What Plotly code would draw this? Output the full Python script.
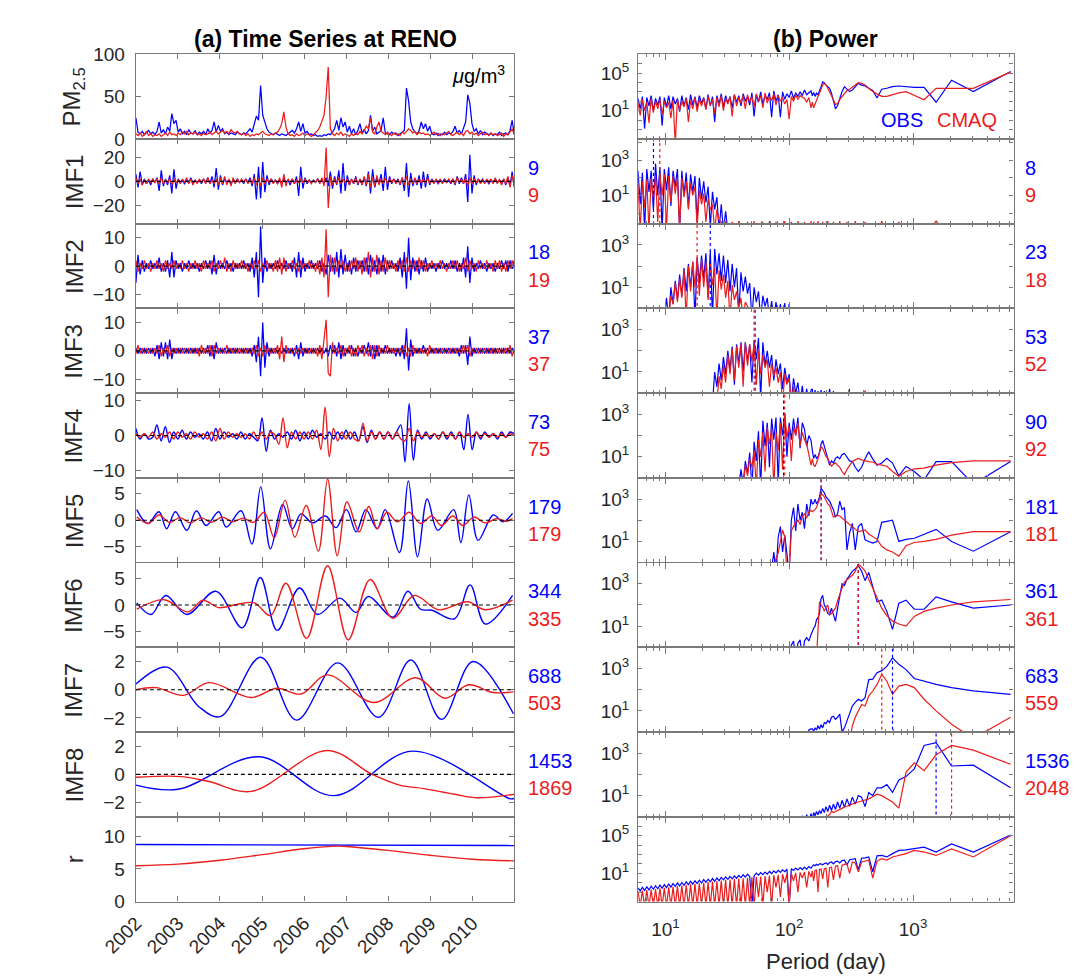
import numpy as np
import plotly.graph_objects as go

# =========================== DATA ===========================
YEARS = [2002, 2003, 2004, 2005, 2006, 2007, 2008, 2009, 2010]
ROW_LABELS = ["PM<sub>2.5</sub>", "IMF1", "IMF2", "IMF3", "IMF4", "IMF5", "IMF6", "IMF7", "IMF8", "r"]

# dominant periods (days) printed beside the panels
TS_PER_OBS = [9, 18, 37, 73, 179, 344, 688, 1453]
TS_PER_CMAQ = [9, 19, 37, 75, 179, 335, 503, 1869]
SP_PER_OBS = [8, 23, 53, 90, 181, 361, 683, 1536]
SP_PER_CMAQ = [9, 18, 52, 92, 181, 361, 559, 2048]

# ---- time series sampled on a regular grid (180 samples, 2002-2011) ----
pm_obs = [25, 8, 6, 9, 5, 7, 10, 6, 8, 5,
          9, 20, 7, 11, 6, 14, 9, 30, 18, 22,
          8, 12, 6, 9, 5, 11, 7, 6, 10, 5,
          8, 6, 9, 5, 12, 7, 10, 20, 8, 16,
          9, 12, 6, 8, 5, 7, 6, 5, 8, 6,
          5, 7, 6, 9, 12, 8, 18, 27, 22, 63,
          28, 20, 12, 8, 6, 5, 7, 5, 4, 6,
          5, 4, 6, 8, 10, 7, 12, 20, 9, 18,
          7, 9, 5, 6, 4, 5, 3, 4, 3, 5,
          4, 6, 5, 8, 12, 22, 10, 25, 14, 20,
          8, 15, 6, 12, 5, 10, 18, 7, 11, 6,
          10, 28, 9, 14, 6, 8, 10, 25, 7, 6,
          5, 8, 6, 7, 4, 6, 8, 10, 60, 45,
          20, 12, 8, 6, 10, 20, 12, 18, 9, 15,
          6, 5, 7, 4, 6, 5, 8, 5, 7, 6,
          9, 15, 7, 10, 6, 12, 20, 52, 42, 18,
          9, 12, 6, 10, 5, 8, 6, 5, 7, 4,
          6, 5, 8, 4, 6, 7, 5, 10, 22, 6]
pm_cmaq = [6, 4, 7, 3, 5, 9, 4, 6, 3, 5,
           4, 6, 3, 5, 7, 4, 8, 5, 6, 4,
           7, 5, 8, 6, 9, 5, 7, 6, 8, 5,
           6, 4, 7, 5, 6, 8, 5, 7, 9, 6,
           8, 10, 7, 9, 6, 11, 8, 7, 9, 6,
           5, 7, 4, 6, 3, 5, 4, 6, 5, 7,
           9, 6, 5, 4, 6, 5, 7, 8, 12, 18,
           32, 14, 6, 4, 5, 3, 6, 4, 5, 7,
           4, 6, 5, 3, 5, 7, 10, 14, 20, 28,
           50, 85, 12, 6, 4, 7, 5, 8, 4, 6,
           5, 3, 6, 4, 7, 5, 9, 6, 10, 15,
           12, 25, 8, 6, 14, 20, 9, 7, 5, 8,
           6, 4, 7, 5, 6, 4, 8, 6, 9, 12,
           10, 7, 9, 5, 8, 6, 7, 5, 6, 4,
           6, 8, 5, 7, 4, 6, 5, 7, 9, 5,
           4, 6, 8, 5, 7, 4, 9, 10, 6, 8,
           5, 7, 4, 6, 8, 5, 6, 4, 7, 5,
           6, 4, 5, 7, 3, 6, 5, 8, 12, 5]
imf1_obs = [6, -5, 8, -3, 2, -2, 1, -3, 2, -1,
            3, -8, 9, -4, 2, -3, 5, -10, 10, -6,
            2, -1, 1, -2, 1, -1, 3, -2, 1, -1,
            1, -2, 2, -1, 3, -2, 4, -5, 11, -7,
            5, -3, 2, -1, 1, -2, 1, -1, 2, -1,
            1, -2, 2, -1, 3, -4, 6, -15, 12, -14,
            16, -9, 5, -3, 2, -1, 1, -2, 1, -1,
            2, -1, 1, -3, 2, -2, 4, -12, 12, -6,
            3, -2, 1, -1, 1, -1, 2, -1, 1, -2,
            3, -4, 8, -6, 4, -3, 9, -10, 15, -8,
            5, -3, 2, -2, 4, -3, 2, -3, 3, -4,
            8, -10, 10, -5, 3, -2, 6, -8, 12, -7,
            4, -2, 2, -1, 2, -3, 3, -8, 15, -13,
            7, -4, 2, -3, 5, -6, 8, -5, 6, -3,
            2, -1, 1, -2, 1, -1, 2, -1, 1, -2,
            2, -3, 4, -2, 3, -2, 6, -17, 22, -10,
            5, -3, 2, -1, 2, -1, 1, -2, 1, -1,
            2, -1, 1, -2, 2, -3, 3, -4, 8, -5]
imf1_cmaq = [3, -2, 2, -3, 1, -2, 2, -1, 2, -1,
             2, -2, 3, -2, 1, -1, 2, -3, 2, -1,
             1, -2, 2, -1, 3, -2, 2, -3, 1, -2,
             2, -1, 2, -2, 3, -2, 1, -2, 2, -3,
             3, -2, 4, -3, 2, -4, 3, -2, 2, -1,
             2, -1, 2, -2, 1, -2, 3, -3, 2, -4,
             3, -2, 2, -1, 2, -2, 1, -2, 3, -5,
             6, -4, 2, -1, 2, -2, 1, -1, 2, -1,
             2, -1, 1, -2, 1, -1, 2, -2, 3, -4,
             28, -22, 4, -3, 2, -2, 3, -2, 2, -1,
             2, -3, 2, -2, 3, -2, 2, -3, 4, -3,
             6, -5, 3, -4, 5, -3, 2, -2, 3, -2,
             2, -1, 2, -2, 1, -2, 3, -3, 4, -3,
             2, -2, 3, -2, 2, -1, 2, -2, 3, -2,
             1, -2, 2, -1, 2, -2, 1, -1, 2, -1,
             2, -2, 3, -1, 2, -2, 3, -4, 3, -2,
             2, -1, 2, -2, 1, -2, 2, -1, 2, -2,
             3, -2, 2, -3, 2, -2, 4, -5, 5, -3]
imf2_obs = [-6, 4, -3, 2, -2, 1, -1, 2, -1, 1,
            -1, 3, -2, 1, -2, 2, -4, 5, -4, 2,
            -1, 1, -2, 1, -1, 2, -1, 1, -1, 1,
            -2, 1, -1, 2, -1, 2, -3, 4, -3, 2,
            -1, 1, -1, 2, -1, 1, -2, 1, -1, 1,
            -1, 2, -1, 1, -2, 3, -4, 5, -11, 14,
            -6, 3, -2, 1, -1, 1, -1, 2, -1, 1,
            -1, 2, -1, 1, -2, 3, -4, 5, -4, 3,
            -2, 1, -1, 2, -1, 1, -1, 2, -2, 1,
            -3, 4, -2, 3, -3, 5, -4, 6, -3, 4,
            -2, 2, -3, 3, -2, 2, -1, 2, -2, 3,
            -3, 4, -2, 2, -3, 3, -2, 4, -3, 2,
            -1, 2, -1, 1, -2, 3, -4, 5, -8, 10,
            -5, 3, -2, 2, -3, 2, -2, 3, -2, 1,
            -1, 1, -2, 1, -1, 2, -1, 1, -1, 2,
            -1, 2, -2, 1, -2, 3, -4, 7, -6, 3,
            -2, 1, -1, 2, -1, 1, -2, 1, -1, 1,
            -2, 1, -1, 2, -1, 2, -2, 2, -1, 2]
imf2_cmaq = [2, -2, 1, -1, 2, -1, 1, -2, 1, -1,
             2, -1, 1, -2, 2, -1, 1, -1, 2, -1,
             1, -1, 2, -1, 1, -2, 1, -1, 2, -1,
             1, -2, 2, -1, 1, -1, 2, -2, 1, -1,
             2, -1, 3, -2, 1, -2, 2, -1, 1, -1,
             2, -1, 1, -2, 1, -1, 2, -1, 2, -2,
             1, -1, 2, -1, 1, -2, 2, -2, 3, -3,
             3, -2, 1, -1, 2, -1, 1, -2, 2, -1,
             1, -1, 2, -1, 1, -2, 2, -3, 3, -4,
             13, -11, 4, -2, 3, -2, 2, -1, 2, -2,
             1, -2, 2, -1, 3, -2, 2, -3, 3, -2,
             5, -4, 3, -2, 4, -3, 2, -2, 3, -2,
             2, -1, 1, -2, 2, -1, 2, -2, 3, -2,
             2, -1, 2, -2, 3, -1, 2, -2, 1, -1,
             2, -1, 1, -1, 2, -1, 1, -2, 1, -1,
             2, -1, 2, -2, 1, -1, 3, -2, 2, -1,
             1, -2, 2, -1, 1, -1, 2, -1, 1, -2,
             2, -1, 2, -2, 1, -2, 2, -1, 2, -1]
imf3_obs = [1, -1, 1, -1, 1, -1, 1, -1, 1, -2,
            2, -3, 3, -2, 3, -3, 4, -3, 1, -1,
            1, -1, 1, -1, 1, -1, 1, -1, 1, -1,
            1, -1, 1, -1, 2, -2, 2, -3, 3, -1,
            1, -1, 1, -1, 1, -1, 1, -1, 1, -1,
            1, -1, 1, -1, 1, -2, 2, -4, 5, -9,
            10, -6, 3, -2, 1, -1, 1, -1, 1, -1,
            1, -1, 1, -1, 1, -2, 2, -3, 3, -2,
            1, -1, 1, -1, 1, -1, 1, -1, 1, -1,
            1, -2, 2, -1, 2, -2, 3, -3, 2, -2,
            1, -1, 2, -2, 1, -2, 1, -1, 2, -1,
            3, -2, 2, -3, 2, -2, 1, -1, 2, -1,
            1, -1, 1, -2, 1, -2, 2, -3, 8, -7,
            4, -2, 1, -1, 1, -1, 2, -1, 1, -1,
            1, -1, 1, -1, 1, -1, 1, -1, 1, -1,
            1, -1, 1, -2, 2, -1, 2, -5, 5, -2,
            1, -1, 1, -1, 1, -1, 1, -1, 1, -1,
            1, -1, 1, -1, 1, -1, 1, -1, 1, -1]
imf3_cmaq = [-1, 2, -1, 1, -1, 1, -1, 1, -1, 1,
             -1, 2, -2, 1, -1, 2, -2, 1, -1, 1,
             -1, 1, -1, 1, -1, 1, -1, 1, -1, 1,
             -2, 2, -1, 1, -1, 2, -2, 2, -1, 1,
             -1, 1, -1, 2, -1, 1, -1, 1, -1, 1,
             -1, 1, -1, 1, -1, 1, -1, 2, -2, 1,
             -2, 2, -1, 1, -1, 1, -1, 2, -3, 5,
             -4, 2, -1, 1, -1, 1, -1, 1, -1, 1,
             -1, 1, -1, 1, -1, 1, -2, 2, -3, 3,
             11, -8, -9, 3, -1, 1, -1, 2, -2, 1,
             -1, 2, -2, 1, -2, 2, -1, 2, -2, 1,
             -2, 2, -3, 2, -2, 2, -1, 1, -1, 2,
             -1, 1, -1, 1, -1, 1, -1, 2, -2, 1,
             -2, 2, -1, 1, -1, 1, -1, 1, -2, 2,
             -1, 1, -1, 1, -1, 1, -1, 1, -1, 1,
             -1, 1, -1, 1, -1, 2, -1, 2, -2, 1,
             -1, 1, -1, 1, -1, 1, -1, 1, -1, 1,
             -1, 1, -1, 1, -1, 1, -1, 2, -2, 1]

# ---- IMF4 sampled every ~0.1 yr (91 samples) ----
imf4_obs = [2, -1, 0.5, -1, -0.5, 3, -1.5, 2.5, -2, 1,
            -1, 1.5, -1, 1, -0.5, 0.5, -1, 1, -1.5, 2,
            -1, 1, -0.5, 0.5, -1, 1, -1, 0.5, -0.5, -1.5,
            5, -4.5, 1.5, -1, 0.5, -0.5, 1, -1, 1.5, -1.5,
            1, -1, 1.5, -0.5, 0.5, -1, 1, -1, 1, -1,
            1.5, -1, 1, -1.5, 2.5, -2, 1.5, -1, 1, -1,
            1, -1, 1, 3, -7.5, 9, -7, 1.5, -1, 1,
            -1, 0.5, -1, 1, -1, 1, -1, 1, -4, 6,
            -4, 1, -1, 1, -0.5, 0.5, -1, 1, -0.5, 1, 0.5]
imf4_cmaq = [0.5, -0.5, 0.5, -0.5, 1, -1, 0.5, -0.5, 1, -1,
             1, -0.5, 0.5, -1, 1, -0.5, 0.5, -1, 1, -1.5,
             2, -1, 1, -0.5, 0.5, -0.5, 0.5, -1, 1, -1,
             1, -1, 1, 0.3, -2.5, 5, -3.5, 1, -1, 1,
             -1, 1, -1, 1.5, -4, 8, -6, 2, -1.5, 1,
             -1, 1, -1, -1.5, 3.5, -1.5, 1, -1, 1, -1,
             1, -1, 1, -1, -1.5, 2, -1.5, 1, -0.5, 0.5,
             -0.5, 0.5, -1, 1, -0.5, 0.5, -1, 1, -0.5, 0.5,
             -0.5, 1, -0.5, 0.5, -0.5, 0.5, -0.5, 0.5, -0.5, 0.5, 0]

# ---- smoother modes: extrema (decimal year, value) ----
imf5_obs_t = [2002.02, 2002.28, 2002.55, 2002.73, 2002.94, 2003.21, 2003.44, 2003.67, 2003.97, 2004.15,
              2004.50, 2004.76, 2004.97, 2005.20, 2005.49, 2005.72, 2005.93, 2006.20, 2006.51, 2006.76,
              2007.01, 2007.24, 2007.47, 2007.74, 2007.93, 2008.27, 2008.48, 2008.70, 2008.93, 2009.18,
              2009.56, 2009.73, 2009.92, 2010.14, 2010.50, 2010.73, 2010.96]
imf5_obs_v = [2.0, -0.6, 1.6, -1.6, 1.6, -1.9, 1.8, -1.0, 1.6, -1.3,
              1.8, -4.5, 6.3, -5.4, 3.0, -1.6, 1.2, -0.5, 0.8, -1.4,
              2.0, -2.2, 2.0, -1.6, 2.0, -6.1, 7.4, -6.9, 4.0, -1.9,
              2.0, -4.2, 4.8, -3.8, 1.0, -0.3, 1.3]
imf5_cmaq_t = [2002.02, 2002.30, 2002.55, 2002.80, 2003.05, 2003.30, 2003.55, 2003.80, 2004.05, 2004.30,
               2004.55, 2004.80, 2005.05, 2005.29, 2005.55, 2005.78, 2006.05, 2006.34, 2006.56, 2006.79,
               2007.02, 2007.31, 2007.54, 2007.74, 2007.97, 2008.22, 2008.50, 2008.77, 2009.04, 2009.27,
               2009.54, 2009.77, 2010.04, 2010.31, 2010.58, 2010.81, 2010.96]
imf5_cmaq_v = [0.6, -0.6, 1.0, -0.4, 0.5, -0.5, 0.5, -0.4, 0.6, -0.3,
               0.4, -0.4, 1.5, -3.3, 3.8, -3.2, 2.8, -5.8, 7.8, -6.7,
               3.5, -2.2, 2.6, -1.6, 1.5, -0.3, 1.5, -0.6, 0.8, -1.0,
               0.8, -1.0, 0.6, -0.5, 0.3, -0.2, 0.3]
imf6_obs_t = [2002.02, 2002.36, 2002.71, 2003.21, 2003.90, 2004.53, 2004.96, 2005.36, 2005.89, 2006.32,
              2006.85, 2007.24, 2007.53, 2008.12, 2008.47, 2008.77, 2009.04, 2009.58, 2009.95, 2010.31, 2010.96]
imf6_obs_v = [0.4, -1.8, 1.8, -1.8, 2.6, -4.3, 5.2, -4.8, 3.2, -1.8,
              1.3, -1.4, 1.6, -2.3, 2.6, -0.8, -1.0, -2.6, 3.8, -3.6, 1.8]
imf6_cmaq_t = [2002.02, 2002.67, 2003.24, 2003.59, 2003.97, 2004.40, 2004.82, 2005.20, 2005.57, 2006.06,
               2006.56, 2007.05, 2007.57, 2008.11, 2008.62, 2009.20, 2009.89, 2010.31, 2010.96]
imf6_cmaq_v = [-0.8, 1.0, -1.3, 0.9, -0.5, 0.1, 0.4, -2.0, 4.1, -6.3,
               7.4, -6.6, 4.8, -2.5, 1.8, -0.9, 0.6, -0.9, 0.9]
imf7_obs_t = [2002.0, 2002.74, 2003.5, 2004.01, 2004.97, 2005.82, 2006.80, 2007.77, 2008.54, 2009.27, 2010.02, 2010.98]
imf7_obs_v = [0.4, 1.6, -1.2, -1.9, 2.3, -2.15, 1.9, -1.95, 2.1, -2.1, 2.0, -1.7]
imf7_cmaq_t = [2002.0, 2002.48, 2003.13, 2003.74, 2004.74, 2005.36, 2005.93, 2006.55, 2007.66, 2008.66,
               2009.35, 2009.92, 2010.50, 2010.98]
imf7_cmaq_v = [0.0, 0.15, -0.4, 0.5, -0.55, 0.1, -0.3, 1.05, -0.9, 0.85, -0.6, 0.35, -0.2, -0.15]
imf8_obs_t = [2002.0, 2003.0, 2004.93, 2006.70, 2008.58, 2010.9, 2011.0]
imf8_obs_v = [-0.75, -1.05, 1.25, -1.5, 1.65, -1.72, -1.7]
imf8_cmaq_t = [2002.0, 2003.1, 2003.74, 2004.74, 2006.55, 2007.62, 2008.27, 2008.85, 2009.58, 2010.12, 2011.0]
imf8_cmaq_v = [-0.2, -0.15, -0.5, -1.2, 1.7, 0.0, -0.75, -1.0, -1.4, -1.65, -1.4]
res_obs_t = [2002.0, 2011.0]
res_obs_v = [8.75, 8.6]
res_cmaq_t = [2002.0, 2003.0, 2004.0, 2005.0, 2006.0, 2006.8, 2007.0, 2008.0, 2009.0, 2010.0, 2011.0]
res_cmaq_v = [5.5, 5.75, 6.35, 7.2, 8.1, 8.5, 8.45, 7.85, 7.1, 6.5, 6.25]

# ---- power spectra (log10 power) ----
# "dense" part: periods 6..150 d on a log grid of 80 samples -> (first index, values)
# "harm"  part: harmonic periods 6144/k for k = 1..40        -> (first k, values)
N_FFT = 6144
sp_pm_obs_dense = (0, [2.3, 1.2, 2.5, -0.9, 2.4, 1.5, 2.6, 1.0, 2.3, 1.6,
                       2.5, -0.6, 2.4, 1.4, 2.6, 1.2, 2.5, 1.7, 2.3, 0.9,
                       2.6, 1.5, 2.4, 1.1, 2.7, 1.6, 2.5, 1.3, 2.6, 1.8,
                       2.4, 1.2, 2.7, 1.5, 2.5, -0.2, 2.6, 1.7, 2.8, 1.4,
                       2.6, 1.8, 2.5, 1.3, 2.7, 1.9, 2.6, 1.5, 2.8, 2.0,
                       2.5, 1.6, 2.9, 0.4, 2.7, 1.9, 3.0, 1.7, 2.6, 2.2,
                       2.9, 0.3, 3.1, 2.0, 2.7, 0.3, 3.0, 2.2, 2.8, 2.4,
                       3.1, 2.3, 2.9, 2.5, 3.0, 2.6, 3.2, 2.7, 2.9, 3.1])
sp_pm_obs_harm = (1, [5.17, 3.03, 4.24, 1.9, 3.48, 3.48, 3.55, 3.62, 3.55, 3.38,
                      3.28, 2.35, 3.14, 3.38, 3.62, 3.72, 3.9, 3.55, 3.2, 3.03,
                      3.28, 3.55, 3.03, 2.35, 1.55, 1.2, 2.0, 2.86, 3.38, 3.55,
                      3.72, 3.97, 4.07, 3.55, 3.03, 2.69, 2.86, 2.52, 2.93, 2.59])
sp_pm_cmaq_dense = (0, [1.8, 0.5, 2.2, 1.0, 1.9, -0.3, 2.3, 0.8, 2.0, 1.2,
                        2.2, 0.6, 2.0, 1.3, 1.9, 0.2, 2.1, -2.5, 2.2, 1.0,
                        2.0, 1.4, 2.3, -0.2, 2.1, 1.2, 2.4, 0.9, 2.2, 1.5,
                        2.3, 1.1, 2.5, 1.6, 2.2, 0.7, 2.4, 1.4, 2.6, 1.0,
                        2.3, 1.7, 2.5, 0.4, 2.7, 1.5, 2.4, 1.8, 2.6, 1.2,
                        2.7, 1.9, 2.5, 1.4, 2.8, 2.0, 2.6, 1.3, 2.9, 1.8,
                        2.5, 2.1, 2.8, 1.6, 2.6, 2.0, 2.4, 1.7, 2.2, 0.1,
                        2.5, 2.0, 2.7, 2.2, 2.6, 2.4, 2.3, 1.9, 2.4, 1.3])
sp_pm_cmaq_harm = (1, [5.1, 3.38, 3.38, 3.38, 2.17, 2.6, 3.03, 2.9, 2.7, 2.52,
                       2.52, 2.79, 3.03, 3.38, 3.72, 3.9, 3.97, 3.72, 3.48, 3.28,
                       3.14, 2.86, 2.52, 2.17, 1.76, 1.66, 2.17, 2.69, 3.03, 3.38,
                       3.72, 3.9, 3.72, 3.38, 2.86, 2.52, 2.17, 1.76, 1.31, 1.9])

sp_imf1_obs_dense = (0, [2.4, 0.5, 2.3, -1.0, 2.5, 1.2, 2.4, 0.2, 2.8, 1.0,
                         2.6, -1.0, 2.5, 1.3, 2.6, 0.4, 2.4, 1.5, 2.5, -1.0,
                         2.4, 1.0, 2.3, 0.3, 2.2, 1.2, 2.1, -0.5, 2.0, 0.8,
                         1.8, 0.6, 1.5, -0.8, 1.2, 0.2, 0.9, -1.0, 0.5, -1.0,
                         0.1, -1.0])
sp_imf1_obs_harm = (1, [])
sp_imf1_cmaq_dense = (0, [1.6, -1.0, 1.8, 0.3, 1.9, -1.0, 2.0, 0.8, 2.1, -0.5,
                          2.2, 1.0, 2.2, -1.0, 2.1, 0.6, 2.1, 1.1, 2.0, -1.0,
                          2.0, 0.9, 1.8, 0.2, 1.7, 1.0, 1.5, -0.8, 1.3, 0.5,
                          1.1, -0.5, 0.8, 0.2, 0.5, -1.0, 0.2, -0.4, -0.5, -1.5,
                          -0.45, -1.5, -1.5, -0.5, -1.5, -1.5, -0.45, -1.5, -1.5, -1.5,
                          -0.5, -1.5, -1.5, -0.45, -1.5, -1.5, -1.5, -0.5, -1.5, -1.5,
                          -0.45, -1.5, -1.5, -0.5, -1.5, -1.5, -1.5, -0.45, -1.5, -1.5,
                          -0.5, -1.5, -1.5, -0.45, -1.5, -1.5, -0.5, -1.5, -1.5, -0.45])
sp_imf1_cmaq_harm = (1, [-1.5, -1.5, -1.5, -0.45, -1.5, -1.5, -1.5, -0.5, -1.5, -1.5,
                         -0.45, -1.5, -1.5, -1.5, -0.5, -1.5, -1.5, -0.45, -1.5, -1.5,
                         -0.5, -1.5, -1.5, -0.45, -1.5, -1.5, -0.5, -1.5, -1.5, -0.45,
                         -1.5, -1.5, -0.5, -1.5, -1.5, -0.45, -1.5, -1.5, -0.5, -1.5])

sp_imf2_obs_dense = (12, [-0.5, 0.5, -0.5, 1.0, 0.2, 1.3, 0.4, 1.6,
                          0.6, 1.9, 0.8, 2.1, 1.0, 2.2, -0.5, 2.4, 1.2, 2.5,
                          1.4, 2.6, 0.5, 2.7, -0.5, 2.8, 1.6, 2.6, 1.3, 2.5,
                          1.2, 2.3, 0.8, 2.1, 1.0, 1.9, -0.3, 1.7, 0.8, 1.5,
                          0.7, 1.2, -0.5, 1.0, 0.3, 0.8, -0.5, 0.6, 0.1, 0.5,
                          -0.5, 0.35, -0.5, 0.3, -0.5, 0.2, -0.8, 0.25, -0.8, 0.2])
sp_imf2_obs_harm = (1, [])
sp_imf2_cmaq_dense = (14, [-0.5, 0.6, 0.2, 1.2, 0.3, 1.4,
                           0.5, 1.8, -0.5, 2.0, 0.8, 2.2, 1.0, 2.4, 0.6, 2.3,
                           1.0, 2.2, 0.4, 2.1, 1.1, 1.9, -0.5, 1.8, 0.9, 1.6,
                           0.5, 1.3, -0.5, 1.1, 0.4, 0.8, 0.0, 0.5, -0.5, 0.3,
                           0.1, -0.5])
sp_imf2_cmaq_harm = (1, [])

sp_imf3_obs_dense = (34, [-0.5, 1.0, 0.3, 1.4, 0.6, 1.7,
                          0.9, 2.0, 1.1, 2.2, 0.4, 2.3, 1.4, 2.4, 1.0, 2.4,
                          1.5, 2.3, 0.5, 2.5, 1.6, 2.6, -0.3, 2.4, 1.3, 2.0,
                          1.2, 1.8, 0.6, 1.6, 0.9, 1.4, 0.2, 1.2, 0.5, 0.9,
                          -0.5, 0.7, 0.0, 0.5, -0.5, 0.35, -0.5, 0.2, -0.5, 0.15])
sp_imf3_obs_harm = (20, [0.2, -0.5, -0.5, -0.5, -0.5, -0.5, -0.5, 0.1, -0.5, 0.2,
                         -0.5, -0.5, 0.1, -0.5, 0.15, -0.5, 0.1, -0.5, 0.15, -0.5, 0.2])
sp_imf3_cmaq_dense = (36, [-0.5, 0.8, 0.2, 1.3,
                           0.5, 1.8, 0.9, 2.1, 0.6, 2.2, 1.2, 2.3, 0.3, 2.4,
                           1.3, 2.3, 1.5, 2.35, 0.4, 2.0, 0.9, 1.8, 1.2, 1.6,
                           0.3, 1.4, 0.8, 1.2, 0.5, 1.0, -0.5, 0.9, 0.4, 0.7,
                           -0.5, 0.3, -0.5, 0.1])
sp_imf3_cmaq_harm = (14, [-0.5, 0.12, -0.5])

sp_imf4_obs_dense = (46, [-0.5, 0.4, -0.3, 0.8,
                          0.2, 1.2, -0.5, 1.7, 0.8, 2.2, -0.5, 2.7, 1.5, 2.6,
                          0.5, 2.8, 1.8, 2.85, -0.3, 2.85, 2.0, 3.05, 1.0, 2.6,
                          1.8, 2.8, 2.0, 2.85, 1.4, 2.6, 2.3, 1.5, 2.0, 1.77])
sp_imf4_obs_harm = (1, [0.77, -0.3, 0.77, 0.77, -0.1, 0.3, 0.54, 0.1, 0.7, 0.92,
                        0.7, 0.6, 0.9, 1.23, 0.9, 0.5, 0.3, 0.5, 0.77, 0.8,
                        1.0, 1.15, 1.1, 0.9, 1.0, 0.92, 0.7, 0.8, 0.6, 0.8,
                        1.2, 1.5, 1.77, 1.6, 1.2, 1.0, 0.92, 1.1, 0.92, 1.3])
sp_imf4_cmaq_dense = (48, [-0.5, 0.6,
                           0.1, 0.9, 0.5, 1.3, -0.5, 1.8, 1.0, 2.15, 0.3, 2.4,
                           1.6, 2.3, -0.5, 2.15, 1.3, 2.6, 0.4, 3.0, 1.9, 2.46,
                           0.8, 2.4, 2.0, 2.6, 1.5, 2.15, 1.8, 1.6, 1.1, 0.6])
sp_imf4_cmaq_harm = (1, [0.8, 0.8, 0.72, 0.6, 0.46, 0.43, 0.3, 0.08, 0.3, 0.55,
                         0.6, 0.65, 0.75, 0.77, 0.8, 0.85, 0.92, 0.85, 0.77, 0.6,
                         0.4, 0.15, 0.3, 0.5, 0.6, 0.7, 0.65, 0.55, 0.7, 0.92,
                         1.0, 1.2, 1.4, 1.46, 1.2, 0.9, 0.7, 0.54, 0.6, 0.9])

sp_imf5_obs_dense = (61, [-0.3, 0.5, -0.5, 1.2, 1.7, 0.5, 1.3, 0.6, -0.5, 2.0,
                          2.6, 1.5, 2.77, 2.0, 2.38, 1.6, 2.77, 2.2, 3.0])
sp_imf5_obs_harm = (1, [1.46, 0.54, 1.0, 1.57, 1.35, 1.15, 1.1, 1.0, 2.0, 1.95,
                        1.9, 1.0, 0.92, 1.0, 1.08, 1.85, 1.7, 0.6, 1.85, 1.4,
                        0.6, 2.6, 2.5, 2.9, 2.3, 2.15, 2.5, 2.7, 2.9, 3.0,
                        3.1, 3.3, 3.4, 3.5, 3.1, 2.9, 2.77, 3.0, 2.8, 2.77])
sp_imf5_cmaq_dense = (62, [-0.5, 0.2, 0.46, 1.0, 1.54, 1.2, -0.5, -0.5, 1.5, 1.7,
                           1.9, 2.0, 1.8, 2.2, 2.3, 2.1, 2.4, 2.46])
sp_imf5_cmaq_harm = (1, [1.46, 1.46, 1.3, 1.1, 1.0, 0.95, 0.8, 0.3, 0.5, 0.6,
                         0.77, 1.1, 1.23, 1.35, 1.54, 1.5, 1.46, 1.6, 1.7, 1.8,
                         1.9, 2.0, 2.1, 2.2, 2.23, 2.2, 2.15, 2.4, 2.7, 2.77,
                         2.9, 3.1, 3.2, 3.23, 3.0, 2.77, 2.6, 2.5, 2.46, 2.4])

sp_imf6_obs_dense = (69, [-0.5, 0.1, 0.3, -0.5, 0.2, 0.35, -0.5, 0.3, 0.46, 0.3, 0.6])
sp_imf6_obs_harm = (1, [2.0, 1.85, 2.15, 2.38, 1.8, 1.8, 2.23, 2.08, 0.85, 1.7,
                        2.23, 2.15, 2.9, 3.54, 3.15, 3.6, 3.85, 3.7, 3.6, 3.4,
                        3.23, 2.92, 3.0, 2.4, 1.85, 1.23, 1.5, 1.85, 1.54, 1.6,
                        1.85, 2.0, 2.46, 2.3, 1.6, 1.4, 1.3, 1.0, 0.9, 0.77])
sp_imf6_cmaq_dense = (0, [])
sp_imf6_cmaq_harm = (1, [2.26, 2.15, 2.0, 1.85, 1.7, 1.46, 1.0, 1.1, 1.25, 1.5,
                         1.85, 2.3, 2.77, 3.2, 3.6, 3.8, 3.92, 3.6, 3.4, 3.3,
                         3.2, 3.08, 2.8, 2.54, 2.2, 1.85, 1.7, 1.6, 1.54, 2.0,
                         1.9, 1.7, 1.9, 2.0, 2.15, 1.0, -0.5])

sp_imf7_obs_dense = (75, [-0.5, 0.05, -0.4, 0.1, 0.15])
sp_imf7_obs_harm = (1, [1.78, 1.95, 2.1, 2.25, 2.4, 2.53, 2.95, 3.2, 3.5, 3.1,
                        2.9, 2.8, 2.5, 2.48, 1.62, 1.47, 1.55, 1.4, 1.23, 0.9,
                        0.53, 0.2, 0.0, 0.85, 0.7, 0.6, 0.75, 0.7, 0.45, 0.55,
                        0.4, 0.45, 0.2, 0.35, 0.15, 0.3, 0.1, 0.2, 0.05, 0.15])
sp_imf7_cmaq_dense = (0, [])
sp_imf7_cmaq_harm = (1, [0.7, -0.3, 0.37, 1.0, 1.55, 2.1, 2.25, 2.17, 1.78, 2.4,
                         2.72, 2.25, 1.94, 1.7, 1.23, 1.3, 1.0, 0.7, 0.3, -0.5])

sp_imf8_obs_dense = (74, [-0.5, 0.05, -0.3, 0.1, -0.2, 0.15])
sp_imf8_obs_harm = (1, [1.37, 2.44, 2.4, 3.5, 3.37, 2.26, 1.9, 1.74, 1.15, 1.52,
                        1.37, 1.37, 1.0, 1.15, 0.48, 0.93, 1.0, 0.6, 0.93, 0.5,
                        0.85, 0.45, 0.78, 0.4, 0.7, 0.35, 0.6, 0.3, 0.55, 0.25,
                        0.48, 0.2, 0.4, 0.15, 0.3, 0.1, 0.25, 0.05, 0.2, -0.1])
sp_imf8_cmaq_dense = (0, [])
sp_imf8_cmaq_harm = (1, [2.48, 3.15, 3.37, 2.93, 2.18, 2.55, 2.1, 0.41, 0.7, 0.85,
                         1.0, 1.07, 0.95, 0.85, 0.8, 0.75, 0.7, 0.66, 0.63, 0.55,
                         0.5, 0.48, 0.4, 0.35, 0.3, 0.26, 0.2, 0.26, 0.1, 0.05, -0.3])

sp_res_obs_dense = (0, [-0.55, -0.87, -0.49, -0.81, -0.43, -0.75, -0.37, -0.69, -0.32, -0.64,
                        -0.26, -0.58, -0.2, -0.52, -0.14, -0.46, -0.08, -0.4, -0.02, -0.34,
                        0.03, -0.27, 0.09, -0.21, 0.15, -0.15, 0.21, -0.09, 0.27, -0.03,
                        0.33, 0.05, 0.38, 0.1, 0.44, 0.16, 0.5, 0.22, 0.56, 0.3,
                        0.62, 0.36, 0.68, 0.42, 0.73, 0.48, 0.79, 0.55, 0.85, 0.6,
                        0.91, 0.66, -2.5, 0.72, 1.02, 0.8, 1.08, 0.86, 1.14, 0.92,
                        1.2, 0.98, 1.26, 1.05, 1.31, 1.1, 1.37, 1.17, 1.43, -2.5,
                        1.49, 1.3, 1.55, 1.35, 1.61, 1.4, 1.67, 1.45, 1.72, 1.55])
sp_res_obs_harm = (1, [5.07, 3.26, 4.13, 3.26, 3.78, 3.6, 3.5, 3.43, 3.09, 2.74,
                       2.9, 2.85, 1.17, 2.74, 2.65, 2.6, 1.35, 2.55, 2.5, 2.45,
                       1.9, 2.4, 2.35, 2.1, 2.3, 2.25, 2.0, 2.2, 2.15, 1.95,
                       2.1, 2.05, 1.9, 2.0, 2.0, 1.85, 1.95, 1.8, 1.9, 1.75])
sp_res_cmaq_dense = (0, [-0.9, -2.5, -0.84, -2.5, -0.78, -2.5, -0.72, -2.5, -0.66, -2.5,
                         -0.6, -2.5, -0.54, -2.5, -0.48, -2.5, -0.42, -2.5, -0.36, -2.5,
                         -0.3, -2.5, -0.24, -2.5, -0.18, -2.5, -0.12, -2.5, -0.06, -2.5,
                         0.0, -2.5, 0.06, -2.5, 0.12, -2.5, 0.18, -2.5, 0.24, -2.5,
                         0.3, -2.5, 0.35, -2.5, 0.39, -2.5, 0.44, -2.5, 0.48, -2.5,
                         0.53, -2.5, 0.57, -2.5, 0.62, -1.5, 0.66, -2.5, 0.71, -1.0,
                         0.75, -2.5, 0.8, -0.5, 0.85, -1.5, 0.9, 0.0, 0.95, -2.5,
                         1.0, 0.2, 1.05, -1.0, 1.1, 0.5, 1.15, -0.5, 1.2, 0.6])
sp_res_cmaq_harm = (1, [5.0, 2.74, 3.6, 2.9, 3.26, 3.43, 3.1, 2.9, 2.74, 2.4,
                        2.56, 2.3, 0.48, 2.4, 2.3, 2.2, 1.17, 2.1, 2.2, 1.0,
                        2.0, 1.95, 1.87, 0.5, 1.8, 1.75, 0.3, 1.65, 1.6, -0.5,
                        1.55, 1.5, 0.4, 1.45, 1.4, -1.0, 1.35, 1.3, 0.2, 1.25])

# =========================== FIGURE ===========================
W, H = 1083, 976
FONT = "Liberation Sans, Arial, Helvetica, sans-serif"
TXT = "#262626"
AXC = "#7a7a7a"
BLUE = "rgb(0,0,255)"
RED = "rgb(235,28,28)"
TICK_SIZE = 19

LX = (96, 487)
RX = (615, 1003)
TOP_PX, PH = 37.0, 86.6

T180 = np.linspace(2002, 2011, 180)
T91 = np.linspace(2002, 2011, 91)
DENSE_P = np.geomspace(6, 150, 80)
HARM_K = np.arange(1, 41)
HARM_P = N_FFT / HARM_K


def spectrum(dense, harm):
    d0, dv = dense
    h0, hv = harm
    dvals = [None] * 80
    for j, v in enumerate(dv):
        dvals[d0 + j] = v
    hvals = [None] * 40
    for j, v in enumerate(hv):
        hvals[h0 - 1 + j] = v
    x = list(DENSE_P) + list(HARM_P[::-1])
    logy = dvals + hvals[::-1]
    y = [None if v is None else 10 ** v for v in logy]
    return x, y


left_series = [
    ((T180, pm_obs), (T180, pm_cmaq), "linear"),
    ((T180, imf1_obs), (T180, imf1_cmaq), "linear"),
    ((T180, imf2_obs), (T180, imf2_cmaq), "linear"),
    ((T180, imf3_obs), (T180, imf3_cmaq), "linear"),
    ((T91, imf4_obs), (T91, imf4_cmaq), "spline"),
    ((imf5_obs_t, imf5_obs_v), (imf5_cmaq_t, imf5_cmaq_v), "spline"),
    ((imf6_obs_t, imf6_obs_v), (imf6_cmaq_t, imf6_cmaq_v), "spline"),
    ((imf7_obs_t, imf7_obs_v), (imf7_cmaq_t, imf7_cmaq_v), "spline"),
    ((imf8_obs_t, imf8_obs_v), (imf8_cmaq_t, imf8_cmaq_v), "spline"),
    ((res_obs_t, res_obs_v), (res_cmaq_t, res_cmaq_v), "spline"),
]
right_series = [
    (sp_pm_obs_dense, sp_pm_obs_harm, sp_pm_cmaq_dense, sp_pm_cmaq_harm),
    (sp_imf1_obs_dense, sp_imf1_obs_harm, sp_imf1_cmaq_dense, sp_imf1_cmaq_harm),
    (sp_imf2_obs_dense, sp_imf2_obs_harm, sp_imf2_cmaq_dense, sp_imf2_cmaq_harm),
    (sp_imf3_obs_dense, sp_imf3_obs_harm, sp_imf3_cmaq_dense, sp_imf3_cmaq_harm),
    (sp_imf4_obs_dense, sp_imf4_obs_harm, sp_imf4_cmaq_dense, sp_imf4_cmaq_harm),
    (sp_imf5_obs_dense, sp_imf5_obs_harm, sp_imf5_cmaq_dense, sp_imf5_cmaq_harm),
    (sp_imf6_obs_dense, sp_imf6_obs_harm, sp_imf6_cmaq_dense, sp_imf6_cmaq_harm),
    (sp_imf7_obs_dense, sp_imf7_obs_harm, sp_imf7_cmaq_dense, sp_imf7_cmaq_harm),
    (sp_imf8_obs_dense, sp_imf8_obs_harm, sp_imf8_cmaq_dense, sp_imf8_cmaq_harm),
    (sp_res_obs_dense, sp_res_obs_harm, sp_res_cmaq_dense, sp_res_cmaq_harm),
]

left_ranges = [[0, 100], [-35, 35], [-15, 15], [-15, 15], [-12, 12], [-8, 8], [-8, 8], [-3, 3], [-3, 3], [0, 13]]
left_ticks = [[0, 50, 100], [-20, 0, 20], [-10, 0, 10], [-10, 0, 10], [-10, 0, 10],
              [-5, 0, 5], [-5, 0, 5], [-2, 0, 2], [-2, 0, 2], [0, 5, 10]]
right_ranges = [[-2, 7], [-0.6, 4.2], [0, 4], [0, 4], [0, 4], [0, 4], [0, 4], [0, 4], [0, 4], [-2, 7]]

fig = go.Figure()
layout = dict(
    width=W, height=H, autosize=False,
    margin=dict(l=0, r=0, t=0, b=0),
    paper_bgcolor="white", plot_bgcolor="white",
    showlegend=False,
    font=dict(family=FONT, color=TXT, size=TICK_SIZE),
)
shapes = []
annotations = []


def aname(kind, n):
    return kind if n == 1 else f"{kind}{n}"


def xdomain(px):
    return [px[0] / W, px[1] / W]


def ydomain(i):
    top = TOP_PX + PH * i
    bot = top + PH
    return [1 - bot / H, 1 - top / H]


base_axis = dict(showline=True, linecolor=AXC, linewidth=1.3, mirror="ticks",
                 ticks="inside", ticklen=5, tickwidth=1, tickcolor=AXC,
                 showgrid=False, zeroline=False,
                 tickfont=dict(family=FONT, size=TICK_SIZE, color=TXT))

minor_x = [v * m for v in (1, 10, 100, 1000) for m in range(2, 10) if 5.5 < v * m < 6600]

for i in range(10):
    nl, nr = 2 * i + 1, 2 * i + 2
    # ---------------- left (time series) ----------------
    (to, vo), (tc, vc), shape = left_series[i]
    lw = 1.25 if shape == "linear" else 1.4
    fig.add_trace(go.Scatter(x=list(to), y=vo, mode="lines", line=dict(color=BLUE, width=lw, shape=shape),
                             xaxis=aname("x", nl), yaxis=aname("y", nl)))
    fig.add_trace(go.Scatter(x=list(tc), y=vc, mode="lines", line=dict(color=RED, width=lw, shape=shape),
                             xaxis=aname("x", nl), yaxis=aname("y", nl)))
    xl = dict(base_axis, domain=xdomain(LX), anchor=aname("y", nl), range=[2002, 2011],
              tickmode="array", tickvals=YEARS, ticktext=[str(y) for y in YEARS],
              showticklabels=(i == 9))
    if i == 9:
        xl.update(tickangle=-45, ticklabelstandoff=2)
    yl = dict(base_axis, domain=ydomain(i), anchor=aname("x", nl), range=left_ranges[i],
              tickmode="array", tickvals=left_ticks[i], ticklabelstandoff=6)
    layout[aname("xaxis", nl)] = xl
    layout[aname("yaxis", nl)] = yl
    if 1 <= i <= 8:
        shapes.append(dict(type="line", xref=f"{aname('x', nl)} domain", yref=aname("y", nl),
                           x0=0, x1=1, y0=0, y1=0, line=dict(color="black", width=1.2, dash="4px,3px")))

    # ---------------- right (power spectra) ----------------
    od, oh, cd, ch = right_series[i]
    xo, yo = spectrum(od, oh)
    xc, yc = spectrum(cd, ch)
    fig.add_trace(go.Scatter(x=xo, y=yo, mode="lines", line=dict(color=BLUE, width=1.2),
                             xaxis=aname("x", nr), yaxis=aname("y", nr)))
    fig.add_trace(go.Scatter(x=xc, y=yc, mode="lines", line=dict(color=RED, width=1.2),
                             xaxis=aname("x", nr), yaxis=aname("y", nr)))
    if 1 <= i <= 8:
        for per, col in ((SP_PER_OBS[i - 1], BLUE), (SP_PER_CMAQ[i - 1], RED)):
            fig.add_trace(go.Scatter(x=[per, per], y=[1e-3, 1e6], mode="lines",
                                     line=dict(color=col, width=1.2, dash="3px,3px"),
                                     xaxis=aname("x", nr), yaxis=aname("y", nr)))
    xr = dict(base_axis, domain=xdomain(RX), anchor=aname("y", nr), type="log",
              range=[0.779, 3.8125], tickmode="array", tickvals=[10, 100, 1000],
              ticktext=["10<sup>1</sup>", "10<sup>2</sup>", "10<sup>3</sup>"],
              ticklen=6, showticklabels=(i == 9), ticklabelstandoff=10,
              minor=dict(tickmode="array", tickvals=minor_x, ticks="inside", ticklen=3,
                         tickcolor=AXC, tickwidth=1))
    if i in (0, 9):
        dec = list(range(-2, 8))
        lab = {1: "10<sup>1</sup>", 5: "10<sup>5</sup>"}
    else:
        dec = list(range(0, 5))
        lab = {1: "10<sup>1</sup>", 3: "10<sup>3</sup>"}
    yr = dict(base_axis, domain=ydomain(i), anchor=aname("x", nr), type="log",
              range=right_ranges[i], tickmode="array", tickvals=[10.0 ** d for d in dec],
              ticktext=[lab.get(d, "") for d in dec], ticklen=4, ticklabelstandoff=4)
    layout[aname("xaxis", nr)] = xr
    layout[aname("yaxis", nr)] = yr


def px2paper(x, y):
    return x / W, 1 - y / H


# titles
for txt, xc in (("<b>(a) Time Series at RENO</b>", (LX[0] + LX[1]) / 2), ("<b>(b) Power</b>", (RX[0] + RX[1]) / 2)):
    x, y = px2paper(xc, 21)
    annotations.append(dict(text=txt, x=x, y=y, xref="paper", yref="paper", showarrow=False,
                            xanchor="center", yanchor="middle", font=dict(size=23, color="black", family=FONT)))
# row labels
for i, lab in enumerate(ROW_LABELS):
    x, y = px2paper(32, TOP_PX + PH * i + PH / 2)
    annotations.append(dict(text=lab, x=x, y=y, xref="paper", yref="paper", showarrow=False, textangle=-90,
                            xanchor="center", yanchor="middle", font=dict(size=24, color=TXT, family=FONT)))
# period numbers
for i in range(1, 9):
    yc = TOP_PX + PH * i + PH / 2
    for xpx, vals_o, vals_c in ((499, TS_PER_OBS, TS_PER_CMAQ), (1013, SP_PER_OBS, SP_PER_CMAQ)):
        for val, col, dy in ((vals_o[i - 1], BLUE, -14), (vals_c[i - 1], RED, 14)):
            x, y = px2paper(xpx, yc + dy)
            annotations.append(dict(text=str(val), x=x, y=y, xref="paper", yref="paper", showarrow=False,
                                    xanchor="left", yanchor="middle", font=dict(size=20, color=col, family=FONT)))
# unit, legend words, x title
x, y = px2paper(480, 58)
annotations.append(dict(text="<i>μ</i>g/m<sup>3</sup>", x=x, y=y, xref="paper", yref="paper", showarrow=False,
                        xanchor="right", yanchor="middle", font=dict(size=20, color="black", family=FONT)))
x, y = px2paper(864, 104)
annotations.append(dict(text="OBS", x=x, y=y, xref="paper", yref="paper", showarrow=False,
                        xanchor="left", yanchor="middle", font=dict(size=20, color=BLUE, family=FONT)))
x, y = px2paper(922, 104)
annotations.append(dict(text="CMAQ", x=x, y=y, xref="paper", yref="paper", showarrow=False,
                        xanchor="left", yanchor="middle", font=dict(size=20, color=RED, family=FONT)))
x, y = px2paper((RX[0] + RX[1]) / 2, 964)
annotations.append(dict(text="Period (day)", x=x, y=y, xref="paper", yref="paper", showarrow=False,
                        xanchor="center", yanchor="middle", font=dict(size=22, color=TXT, family=FONT)))

layout["shapes"] = shapes
layout["annotations"] = annotations
fig.update_layout(**layout)
fig.write_html("out.html", config={"displayModeBar": False})
